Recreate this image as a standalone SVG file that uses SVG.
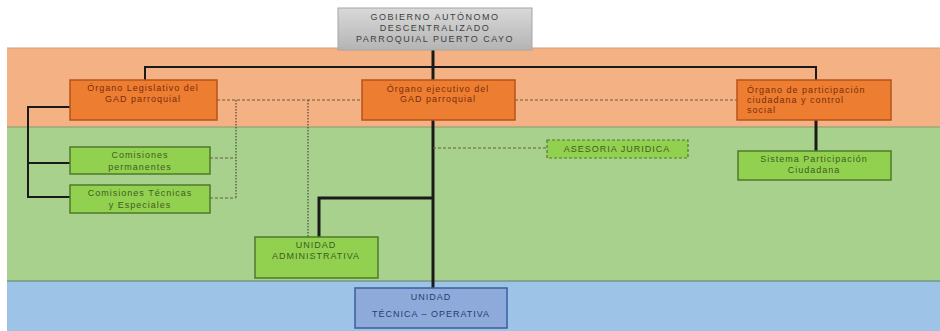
<svg xmlns="http://www.w3.org/2000/svg" width="940" height="331" viewBox="0 0 940 331">
<defs>
<linearGradient id="gray" x1="0" y1="0" x2="0" y2="1">
<stop offset="0" stop-color="#d9d9d9"/>
<stop offset="1" stop-color="#b4b4b4"/>
</linearGradient>
<style>
text{font-family:"Liberation Sans","DejaVu Sans",sans-serif;font-size:9px;letter-spacing:1px;text-anchor:middle}
.org rect{fill:#ed7d31;stroke:#b5531b;stroke-width:1.5}
.org text{fill:#7a2d0a}
.grn rect{fill:#92d050;stroke:#4f7a28;stroke-width:1.5}
.grn text{fill:#3d5e1e}
.blu rect{fill:#8eaadb;stroke:#3a5f9c;stroke-width:1.5}
.blu text{fill:#23406e}
.top rect{fill:url(#gray);stroke:#a6a6a6;stroke-width:1}
.top text{fill:#404040;letter-spacing:1.5px}
.solid{stroke:#1a1a1a;stroke-width:3;fill:none}
.thin{stroke:#1a1a1a;stroke-width:2;fill:none}
.dash{stroke:#6b5a3a;stroke-width:1;stroke-dasharray:3 2;fill:none}
.dot{stroke:#4a4a3a;stroke-width:1.2;stroke-dasharray:1.5 1.5;fill:none}
</style>
</defs>
<rect x="0" y="0" width="940" height="331" fill="#ffffff"/>
<g id="bands">
<rect x="7" y="48" width="933" height="79" fill="#f4b183"/>
<rect x="7" y="127" width="933" height="154" fill="#a9d18e"/>
<rect x="7" y="281" width="933" height="50" fill="#9dc3e6"/>
<line x1="7" y1="48" x2="940" y2="48" stroke="#c9a080" stroke-width="1"/>
<line x1="7" y1="127" x2="940" y2="127" stroke="#8a9a70" stroke-width="1"/>
<line x1="7" y1="281" x2="940" y2="281" stroke="#5f7f6a" stroke-width="1"/>
</g>
<g id="connectors">
<path class="solid" d="M433 50V80"/>
<path class="thin" d="M145 80V67H816V80"/>
<path class="solid" d="M433 120V288"/>
<path class="solid" d="M433 198H319V237"/>
<path class="solid" d="M816 120V151"/>
<path class="thin" d="M70 107H28V197H70"/>
<path class="thin" d="M28 163H70"/>
<path class="dash" d="M217 100H362"/>
<path class="dash" d="M515 100H737"/>
<path class="dot" d="M236 100V198"/>
<path class="dot" d="M308 100V237"/>
<path class="dash" d="M210 158H236"/>
<path class="dash" d="M210 198H236"/>
<path class="dash" d="M433 148H547"/>
</g>
<g id="gobierno" class="top">
<rect x="338" y="8" width="194" height="42"/>
<text x="435" y="20">GOBIERNO AUTÓNOMO</text>
<text x="435" y="31">DESCENTRALIZADO</text>
<text x="435" y="42">PARROQUIAL PUERTO CAYO</text>
</g>
<g id="legislativo" class="org">
<rect x="70" y="80" width="147" height="40"/>
<text x="143" y="91">Órgano Legislativo del</text>
<text x="143" y="102">GAD parroquial</text>
</g>
<g id="ejecutivo" class="org">
<rect x="362" y="80" width="153" height="40"/>
<text x="438" y="92">Órgano ejecutivo del</text>
<text x="438" y="102">GAD parroquial</text>
</g>
<g id="participacion" class="org">
<rect x="737" y="80" width="154" height="40"/>
<text x="747" y="93" style="text-anchor:start">Órgano de participación</text>
<text x="747" y="103" style="text-anchor:start">ciudadana  y control</text>
<text x="747" y="113" style="text-anchor:start">social</text>
</g>
<g id="permanentes" class="grn">
<rect x="70" y="147" width="140" height="27"/>
<text x="140" y="158">Comisiones</text>
<text x="140" y="170">permanentes</text>
</g>
<g id="tecnicas" class="grn">
<rect x="70" y="185" width="140" height="28"/>
<text x="140" y="196">Comisiones Técnicas</text>
<text x="140" y="208">y Especiales</text>
</g>
<g id="asesoria" class="grn">
<rect x="547" y="140" width="141" height="18" style="stroke-dasharray:3 2;stroke-width:1.2"/>
<text x="617" y="152">ASESORIA JURIDICA</text>
</g>
<g id="sistema" class="grn">
<rect x="738" y="151" width="153" height="29"/>
<text x="814" y="162">Sistema Participación</text>
<text x="814" y="173">Ciudadana</text>
</g>
<g id="administrativa" class="grn">
<rect x="255" y="237" width="123" height="41"/>
<text x="316" y="248">UNIDAD</text>
<text x="316" y="259">ADMINISTRATIVA</text>
</g>
<g id="tecnica" class="blu">
<rect x="355" y="288" width="152" height="40"/>
<text x="431" y="300">UNIDAD</text>
<text x="431" y="317">TÉCNICA – OPERATIVA</text>
</g>
</svg>
